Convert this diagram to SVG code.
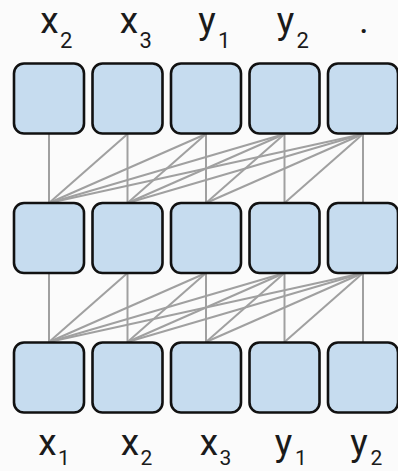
<svg xmlns="http://www.w3.org/2000/svg" width="398" height="471" viewBox="0 0 398 471">
<style>
.bg{fill:#fbfbfb}
.box{fill:#c6dcef;stroke:#111;stroke-width:2.6}
.ln{stroke:#a0a0a0;stroke-width:2;fill:none}
.m{font-family:Roboto,"Liberation Sans",sans-serif;font-size:37px;fill:#1a1a1a;text-anchor:middle}
.s{font-family:Roboto,"Liberation Sans",sans-serif;font-size:22px;fill:#1a1a1a}
.sb{font-family:Roboto,"Liberation Sans",sans-serif;font-size:21px;fill:#1a1a1a}
</style>
<rect class="bg" x="0" y="0" width="398" height="471"/>
<g id="connectors">
<line class="ln" x1="49" y1="203" x2="49" y2="134"/>
<line class="ln" x1="49" y1="203" x2="127.5" y2="134"/>
<line class="ln" x1="49" y1="203" x2="206" y2="134"/>
<line class="ln" x1="49" y1="203" x2="284.5" y2="134"/>
<line class="ln" x1="49" y1="203" x2="363" y2="134"/>
<line class="ln" x1="127.5" y1="203" x2="127.5" y2="134"/>
<line class="ln" x1="127.5" y1="203" x2="206" y2="134"/>
<line class="ln" x1="127.5" y1="203" x2="284.5" y2="134"/>
<line class="ln" x1="127.5" y1="203" x2="363" y2="134"/>
<line class="ln" x1="206" y1="203" x2="206" y2="134"/>
<line class="ln" x1="206" y1="203" x2="284.5" y2="134"/>
<line class="ln" x1="206" y1="203" x2="363" y2="134"/>
<line class="ln" x1="284.5" y1="203" x2="284.5" y2="134"/>
<line class="ln" x1="284.5" y1="203" x2="363" y2="134"/>
<line class="ln" x1="363" y1="203" x2="363" y2="134"/>
<line class="ln" x1="49" y1="342" x2="49" y2="273"/>
<line class="ln" x1="49" y1="342" x2="127.5" y2="273"/>
<line class="ln" x1="49" y1="342" x2="206" y2="273"/>
<line class="ln" x1="49" y1="342" x2="284.5" y2="273"/>
<line class="ln" x1="49" y1="342" x2="363" y2="273"/>
<line class="ln" x1="127.5" y1="342" x2="127.5" y2="273"/>
<line class="ln" x1="127.5" y1="342" x2="206" y2="273"/>
<line class="ln" x1="127.5" y1="342" x2="284.5" y2="273"/>
<line class="ln" x1="127.5" y1="342" x2="363" y2="273"/>
<line class="ln" x1="206" y1="342" x2="206" y2="273"/>
<line class="ln" x1="206" y1="342" x2="284.5" y2="273"/>
<line class="ln" x1="206" y1="342" x2="363" y2="273"/>
<line class="ln" x1="284.5" y1="342" x2="284.5" y2="273"/>
<line class="ln" x1="284.5" y1="342" x2="363" y2="273"/>
<line class="ln" x1="363" y1="342" x2="363" y2="273"/>
</g>
<g id="top-row">
<g id="t1"><rect class="box" x="14" y="63.5" width="70" height="70" rx="10"/></g>
<g id="t2"><rect class="box" x="92.5" y="63.5" width="70" height="70" rx="10"/></g>
<g id="t3"><rect class="box" x="171" y="63.5" width="70" height="70" rx="10"/></g>
<g id="t4"><rect class="box" x="249.5" y="63.5" width="70" height="70" rx="10"/></g>
<g id="t5"><rect class="box" x="328" y="63.5" width="70" height="70" rx="10"/></g>
</g>
<g id="mid-row">
<g id="m1"><rect class="box" x="14" y="203" width="70" height="70" rx="10"/></g>
<g id="m2"><rect class="box" x="92.5" y="203" width="70" height="70" rx="10"/></g>
<g id="m3"><rect class="box" x="171" y="203" width="70" height="70" rx="10"/></g>
<g id="m4"><rect class="box" x="249.5" y="203" width="70" height="70" rx="10"/></g>
<g id="m5"><rect class="box" x="328" y="203" width="70" height="70" rx="10"/></g>
</g>
<g id="bottom-row">
<g id="b1"><rect class="box" x="14" y="342.5" width="70" height="70" rx="10"/></g>
<g id="b2"><rect class="box" x="92.5" y="342.5" width="70" height="70" rx="10"/></g>
<g id="b3"><rect class="box" x="171" y="342.5" width="70" height="70" rx="10"/></g>
<g id="b4"><rect class="box" x="249.5" y="342.5" width="70" height="70" rx="10"/></g>
<g id="b5"><rect class="box" x="328" y="342.5" width="70" height="70" rx="10"/></g>
</g>
<g id="top-labels">
<text class="m" x="49.5" y="33">x</text><text class="s" x="60" y="48">2</text>
<text class="m" x="129" y="33">x</text><text class="s" x="139.5" y="48">3</text>
<text class="m" x="207" y="33">y</text><text class="s" x="218" y="48">1</text>
<text class="m" x="285.5" y="33">y</text><text class="s" x="296.5" y="48">2</text>
<text class="m" x="364" y="33">.</text>
</g>
<g id="bottom-labels">
<text class="m" x="47.5" y="455">x</text><text class="sb" x="58" y="465">1</text>
<text class="m" x="130" y="455">x</text><text class="sb" x="140.5" y="465">2</text>
<text class="m" x="209" y="455">x</text><text class="sb" x="219.5" y="465">3</text>
<text class="m" x="283.5" y="455">y</text><text class="sb" x="295" y="465">1</text>
<text class="m" x="359" y="455">y</text><text class="sb" x="370.5" y="465">2</text>
</g>
</svg>
